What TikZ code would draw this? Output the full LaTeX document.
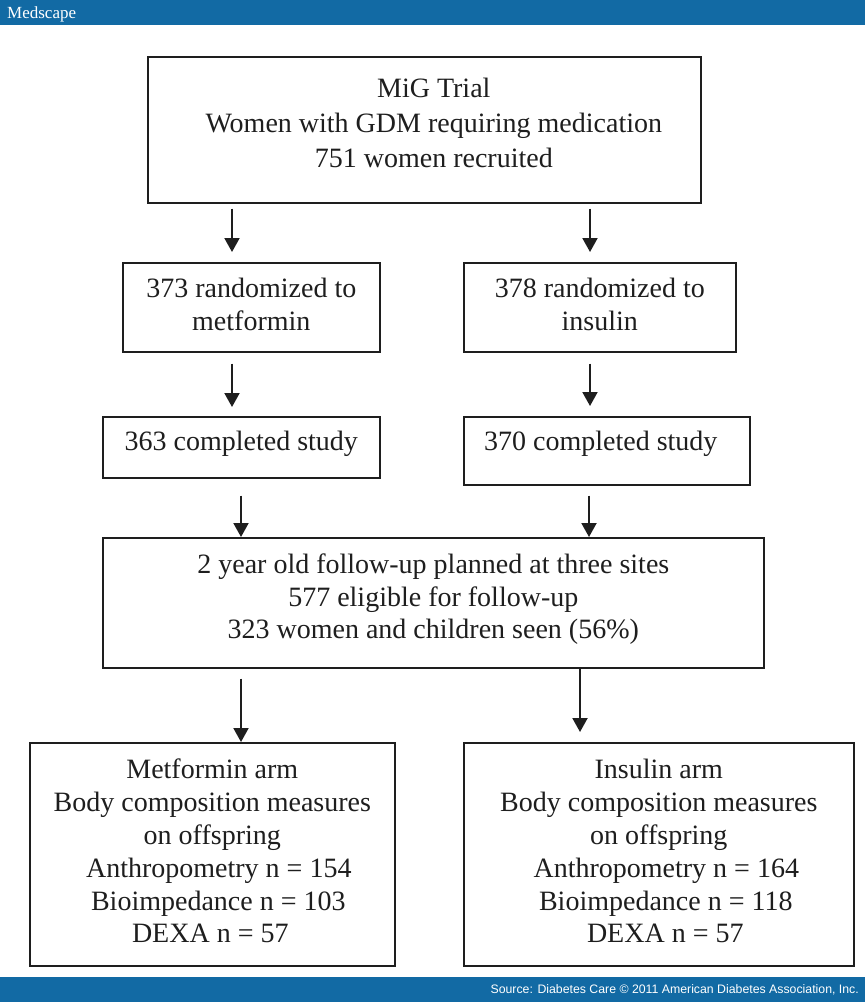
\documentclass[tikz,border=0pt]{standalone}
\usepackage{fontspec}
\setmainfont{Liberation Serif}
\newfontfamily\footfont{Liberation Sans}
\usetikzlibrary{arrows.meta}
\definecolor{msblue}{RGB}{18,106,164}
\definecolor{ink}{RGB}{30,30,30}
\tikzset{
  box/.style={draw=ink, line width=1.6pt, inner xsep=0pt, inner ysep=0pt,
    anchor=north west, align=center, text=ink,
    font=\fontsize{28}{32.8}\selectfont},
  arr/.style={draw=ink, line width=2pt, -{Triangle[width=15pt,length=14pt]}},
}
\begin{document}
\begin{tikzpicture}[x=1pt,y=1pt]
\useasboundingbox (0,0) rectangle (865,-1002);
\fill[white] (0,0) rectangle (865,-1002);
% header and footer bars
\fill[msblue] (0,0) rectangle (865,-25);
\fill[msblue] (0,-977) rectangle (865,-1002);
\node[anchor=base west, text=white, inner sep=0pt, font=\fontsize{17}{20}\selectfont] (logo) at (7,-18) {Medscape};
\node[anchor=base east, text=white, inner sep=0pt, font=\footfont\fontsize{12.3}{14}\selectfont] (src) at (859,-993) {Source: Diabetes Care © 2011 American Diabetes Association, Inc.};
% boxes (text height = last baseline - top, text depth = bottom - last baseline)
\node[box, font=\fontsize{28}{35}\selectfont, minimum width=553pt, text height=111pt, text depth=35pt] (top) at (147,-56)
  {\hspace*{19pt}MiG Trial\\\hspace*{19pt}Women with GDM requiring medication\\\hspace*{19pt}751 women recruited};
\node[box, font=\fontsize{28}{33}\selectfont, minimum width=257pt, text height=68pt, text depth=21pt] (met) at (122,-262)
  {373 randomized to\\metformin};
\node[box, font=\fontsize{28}{33}\selectfont, minimum width=272pt, text height=68pt, text depth=21pt] (ins) at (463,-262)
  {378 randomized to\\insulin};
\node[box, minimum width=277pt, text height=34pt, text depth=27pt] (c363) at (102,-416)
  {363 completed study};
\node[box, minimum width=286pt, text height=34pt, text depth=34pt] (c370) at (463,-416)
  {370 completed study\hspace*{12pt}};
\node[box, font=\fontsize{28}{32.5}\selectfont, minimum width=661pt, text height=101pt, text depth=29pt] (fu) at (102,-537)
  {2 year old follow-up planned at three sites\\577 eligible for follow-up\\323 women and children seen (56\%)};
\node[box, minimum width=365pt, text height=200pt, text depth=23pt] (marm) at (29,-742)
  {Metformin arm\\Body composition measures\\on offspring\\\hspace*{13pt}Anthropometry n = 154\\\hspace*{12pt}Bioimpedance n = 103\\DEXA n = 57\hspace*{4pt}};
\node[box, minimum width=390pt, text height=200pt, text depth=23pt] (iarm) at (463,-742)
  {Insulin arm\\Body composition measures\\on offspring\\\hspace*{15pt}Anthropometry n = 164\\\hspace*{14pt}Bioimpedance n = 118\\\hspace*{13pt}DEXA n = 57};
% arrows
\draw[arr] ([xshift=85pt,yshift=-5pt]top.south west) -- ([xshift=110pt,yshift=10pt]met.north west);
\draw[arr] ([xshift=443pt,yshift=-5pt]top.south west) -- ([xshift=127pt,yshift=10pt]ins.north west);
\draw[arr] ([xshift=110pt,yshift=-11pt]met.south west) -- ([xshift=130pt,yshift=9pt]c363.north west);
\draw[arr] ([xshift=127pt,yshift=-11pt]ins.south west) -- ([xshift=127pt,yshift=10pt]c370.north west);
\draw[arr] ([xshift=139pt,yshift=-17pt]c363.south west) -- ([xshift=139pt]fu.north west);
\draw[arr] ([xshift=126pt,yshift=-10pt]c370.south west) -- ([xshift=487pt]fu.north west);
\draw[arr] ([xshift=139pt,yshift=-10pt]fu.south west) -- ([xshift=212pt]marm.north west);
\draw[arr] ([xshift=478pt]fu.south west) -- ([xshift=117pt,yshift=10pt]iarm.north west);
\end{tikzpicture}
\end{document}
